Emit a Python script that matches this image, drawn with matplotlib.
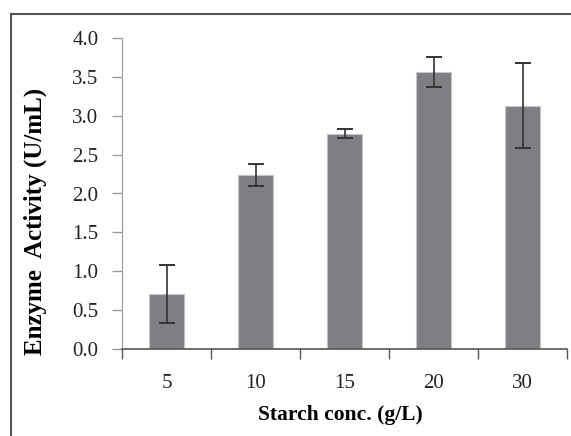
import numpy as np
import matplotlib
matplotlib.use("Agg")
import matplotlib.pyplot as plt
from matplotlib.lines import Line2D

# dane
stezenia = ["5", "10", "15", "20", "30"]
aktywnosc = [0.71, 2.24, 2.77, 3.56, 3.13]
bledy = [0.37, 0.14, 0.055, 0.19, 0.55]
ytiki = [0.0, 0.5, 1.0, 1.5, 2.0, 2.5, 3.0, 3.5, 4.0]

plt.rcParams["font.family"] = ["Liberation Serif", "DejaVu Serif"]

fig = plt.figure(figsize=(5.71, 4.36), dpi=100)
ax = fig.add_axes([122 / 571, 1 - 349 / 436, 445 / 571, 311 / 436])

x = np.arange(len(stezenia))
ax.bar(x, aktywnosc, width=0.39, color="#7f7f83", edgecolor="#c4c4c6", linewidth=0.8,
       yerr=bledy, error_kw=dict(ecolor="#333333", elinewidth=1.2, capsize=5.5, capthick=1.4))

ax.set_xlim(-0.5, len(stezenia) - 0.5)
ax.set_ylim(0, 4.0)
ax.set_yticks(ytiki)
ax.set_yticklabels([f"{t:.1f}" for t in ytiki])

# podpisy kategorii na srodku, kreski na granicach
ax.set_xticks(x)
ax.set_xticklabels(stezenia)
ax.set_xticks(np.arange(len(stezenia) + 1) - 0.5, minor=True)
ax.tick_params(axis="x", which="major", length=0, pad=18, labelsize=15, colors="#222222")
ax.tick_params(axis="x", which="minor", length=7, width=1, color="#555555")
ax.tick_params(axis="y", length=7, width=1, color="#999999", pad=10, labelsize=15, labelcolor="#222222")

for s in ["top", "right"]:
    ax.spines[s].set_visible(False)
ax.spines["left"].set_color("#999999")
ax.spines["bottom"].set_color("#555555")
ax.spines["bottom"].set_linewidth(1.2)

fig.text(35 / 571, 1 - 221 / 436, "Enzyme  Activity (U/mL)", fontsize=18, fontweight="bold",
         rotation=90, ha="center", va="center")
fig.text(340 / 571, 1 - 415 / 436, "Starch conc. (g/L)", fontsize=15.5, fontweight="bold",
         ha="center", va="center")

# ramka obrazka (lewa i gorna krawedz)
fig.add_artist(Line2D([11 / 571, 11 / 571], [0, 1 - 14 / 436], color="#555555", lw=1.5))
fig.add_artist(Line2D([11 / 571, 1], [1 - 14 / 436, 1 - 14 / 436], color="#555555", lw=1.5))

fig.savefig("out.png", dpi=100)
